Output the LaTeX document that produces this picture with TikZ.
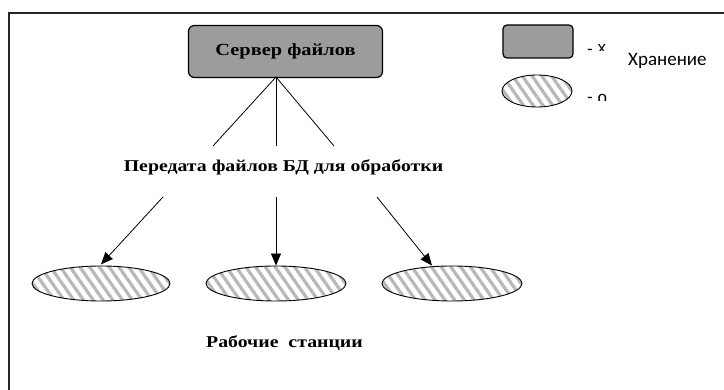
\documentclass[tikz,border=0pt]{standalone}
\usepackage{fontspec}
\setmainfont{Liberation Serif}
\newfontfamily\widebf[FakeStretch=1.2]{Liberation Serif Bold}
\newfontfamily\carlito{Carlito}
\newfontfamily\legsans{Liberation Sans}
\usetikzlibrary{arrows.meta,patterns.meta,shapes.geometric}
\definecolor{srvgray}{HTML}{9C9C9C}
\definecolor{hatchgray}{HTML}{B8B8B8}
\begin{document}
\begin{tikzpicture}[x=1pt,y=-1pt,
  srv/.style={draw=black, line width=1.2pt, fill=srvgray, rounded corners=6pt, inner sep=0pt},
  ws/.style={draw=black, line width=0.9pt, ellipse, inner sep=0pt,
    pattern={Lines[angle=-55,distance=8pt,line width=3.2pt]}, pattern color=hatchgray},
  lbl/.style={font=\widebf\fontsize{16.5}{19}\selectfont, inner sep=0pt},
  leg/.style={inner sep=0pt, font=\legsans\fontsize{17}{19}\selectfont, anchor=base west},
  conn/.style={line width=0.8pt},
  arr/.style={conn, -{Triangle[length=12pt,width=10pt]}}]
\useasboundingbox (0,0) rectangle (724,390);
\draw[line width=2pt, draw=black!85] (9,390) -- (9,13) -- (724,13);

% server
\node[srv, minimum width=194pt, minimum height=52pt, font=\widebf\fontsize{17}{20}\selectfont] (server) at (285.5,51.5) {Сервер файлов};
\coordinate (apex) at (276,77);
\coordinate (l1) at (213,146);
\coordinate (l2) at (276,146);
\coordinate (l3) at (334,146);
\draw[conn] (apex) -- (l1);
\draw[conn] (apex) -- (l2);
\draw[conn] (apex) -- (l3);

\node[lbl] (transfer) at (283.5,167) {Передата файлов БД для обработки};

\node[ws, minimum width=138pt, minimum height=35pt] (ws1) at (101,283.5) {};
\node[ws, minimum width=140pt, minimum height=35pt] (ws2) at (276,283.5) {};
\node[ws, minimum width=140pt, minimum height=35pt] (ws3) at (452,283.5) {};

\coordinate (s1) at (163,197);
\coordinate (s2) at (276,197);
\coordinate (s3) at (377,197);
\draw[arr] (s1) -- (ws1.north);
\draw[arr] (s2) -- (ws2.north);
\draw[arr] (s3) -- (ws3.north -| 432,0);

\node[lbl] (stations) at (284.5,343) {Рабочие\ \ станции};

% legend
\node[srv, minimum width=70pt, minimum height=33pt, rounded corners=4pt] (legsrv) at (538,41.5) {};
\node[ws, minimum width=70pt, minimum height=32pt] (legws) at (537,91) {};
\node[leg] (dash1) at (587,54.6) {-};
\node[leg] (dash2) at (587,102.9) {-};
\begin{scope}
\clip (595,30) rectangle (620,50.8);
\node[leg] (legsrvlbl) at (597.5,54) {х};
\end{scope}
\begin{scope}
\clip (595,85) rectangle (620,100.8);
\node[leg] (legwslbl) at (597.5,103.5) {о};
\end{scope}
\node[anchor=west, inner sep=0pt, font=\carlito\fontsize{19}{22}\selectfont] (store) at (628,61) {Хранение};
\end{tikzpicture}
\end{document}
